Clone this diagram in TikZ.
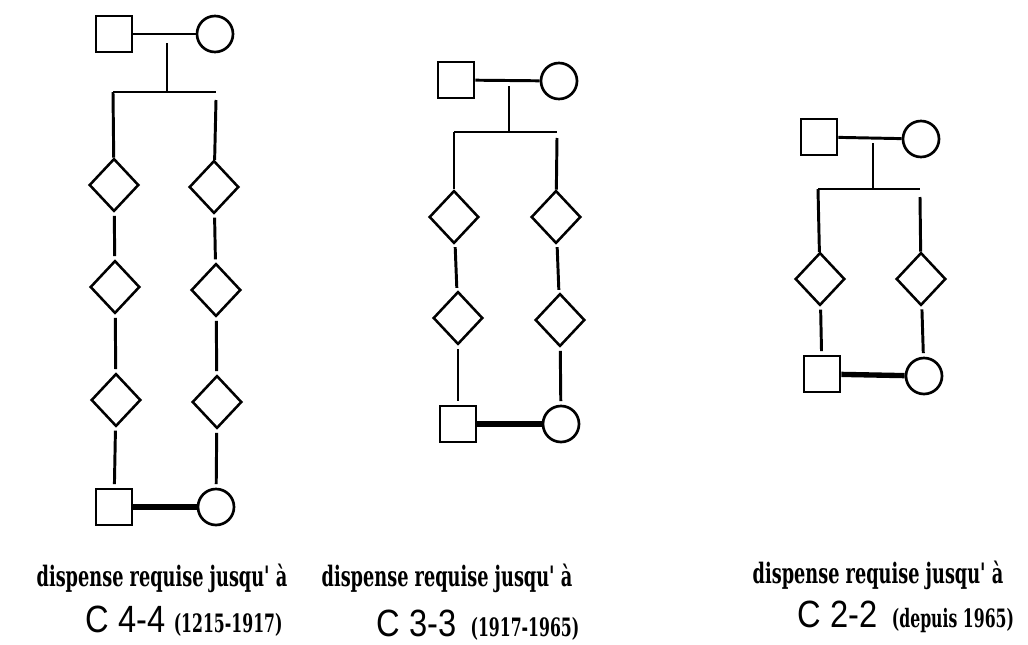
\documentclass[tikz,border=0pt]{standalone}
\usepackage{fontspec}
\setmainfont{Liberation Serif}
\newfontfamily\lblfont{DejaVu Serif}[FakeStretch=0.63]
\newfontfamily\datefont{DejaVu Serif}[FakeStretch=0.62]
\newfontfamily\degfont{Liberation Sans}[FakeStretch=0.86]
\usetikzlibrary{positioning,shapes.geometric}

\begin{document}
\begin{tikzpicture}[
  x=0.025cm, y=-0.025cm,
  male/.style={draw, rectangle, line width=1.9pt, minimum size=0.9cm, inner sep=0pt},
  female/.style={draw, circle, line width=1.9pt, minimum size=0.9cm, inner sep=0pt},
  kin/.style={draw, diamond, line width=1.8pt, minimum width=1.24cm, minimum height=1.32cm, inner sep=0pt},
  link/.style={line width=2.1pt},
  gap/.style={link, shorten <=2.5pt, shorten >=2.5pt},
  union/.style={line width=3.8pt},
  caption/.style={font=\lblfont\bfseries\fontsize{20}{22}\selectfont, inner sep=0pt},
  degree/.style={inner sep=0pt}
]
\useasboundingbox (0,0) rectangle (1028,645);

% Degree 4-4
\node[male] (f1) at (114,34) {};
\node[female] (m1) at (215,34) {};
\draw[link] (f1) -- (m1);
\coordinate (d1) at (167,43);
\coordinate (j1) at (167,92);
\coordinate (sl1) at (113,92);
\coordinate (sr1) at (216,92);
\coordinate (rt1) at (216,100);
\draw[link] (d1) -- (j1);
\draw[link] (sl1) -- (sr1);
\node[kin] (a11) at (114,185) {};
\node[kin] (a12) at (115,287) {};
\node[kin] (a13) at (116,400) {};
\node[kin] (b11) at (214,187) {};
\node[kin] (b12) at (216,290) {};
\node[kin] (b13) at (217,402) {};
\node[male] (f1b) at (114,507) {};
\node[female] (m1b) at (216,507) {};
\draw[link] (sl1) -- (a11);
\draw[link] (rt1) -- (b11);
\draw[gap] (a11) -- (a12);
\draw[gap] (a12) -- (a13);
\draw[gap] (a13) -- (f1b);
\draw[gap] (b11) -- (b12);
\draw[gap] (b12) -- (b13);
\draw[gap] (b13) -- (m1b);
\draw[union] (f1b) -- (m1b);
\node[caption] (t1) at (162,578) {dispense requise jusqu' à};
\node[degree] (c1) at (184,621) {{\degfont\fontsize{27}{27}\selectfont C 4-4}\hspace{6pt}{\datefont\bfseries\fontsize{18}{20}\selectfont (1215-1917)}};

% Degree 3-3
\node[male] (f2) at (456,80) {};
\node[female] (m2) at (559,81) {};
\draw[link] (f2) -- (m2);
\coordinate (d2) at (509,86);
\coordinate (j2) at (509,132);
\coordinate (sl2) at (454,132);
\coordinate (sr2) at (557,132);
\coordinate (rt2) at (557,138);
\draw[link] (d2) -- (j2);
\draw[link] (sl2) -- (sr2);
\node[kin] (a21) at (454,217) {};
\node[kin] (a22) at (458,318) {};
\node[kin] (b21) at (556,217) {};
\node[kin] (b22) at (560,320) {};
\node[male] (f2b) at (458,424) {};
\node[female] (m2b) at (561,424) {};
\draw[link] (sl2) -- (a21);
\draw[link] (rt2) -- (b21);
\draw[gap] (a21) -- (a22);
\draw[gap] (a22) -- (f2b);
\draw[gap] (b21) -- (b22);
\draw[gap] (b22) -- (m2b);
\draw[union] (f2b) -- (m2b);
\node[caption] (t2) at (447,578) {dispense requise jusqu' à};
\node[degree] (c2) at (478,625) {{\degfont\fontsize{27}{27}\selectfont C 3-3}\hspace{10pt}{\datefont\bfseries\fontsize{18}{20}\selectfont (1917-1965)}};

% Degree 2-2
\node[male] (f3) at (819,137) {};
\node[female] (m3) at (921,139) {};
\draw[link] (f3) -- (m3);
\coordinate (d3) at (873,143);
\coordinate (j3) at (873,189);
\coordinate (sl3) at (818,189);
\coordinate (sr3) at (920,189);
\coordinate (rt3) at (920,197);
\draw[link] (d3) -- (j3);
\draw[link] (sl3) -- (sr3);
\node[kin] (a31) at (820,279) {};
\node[kin] (b31) at (921,279) {};
\node[male] (f3b) at (822,374) {};
\node[female] (m3b) at (924,376) {};
\draw[link] (sl3) -- (a31);
\draw[link] (rt3) -- (b31);
\draw[gap] (a31) -- (f3b);
\draw[gap] (b31) -- (m3b);
\draw[union] (f3b) -- (m3b);
\node[caption] (t3) at (878,575) {dispense requise jusqu' à};
\node[degree] (c3) at (906,617) {{\degfont\fontsize{27}{27}\selectfont C 2-2}\hspace{10pt}{\datefont\bfseries\fontsize{18}{20}\selectfont (depuis 1965)}};
\end{tikzpicture}
\end{document}
